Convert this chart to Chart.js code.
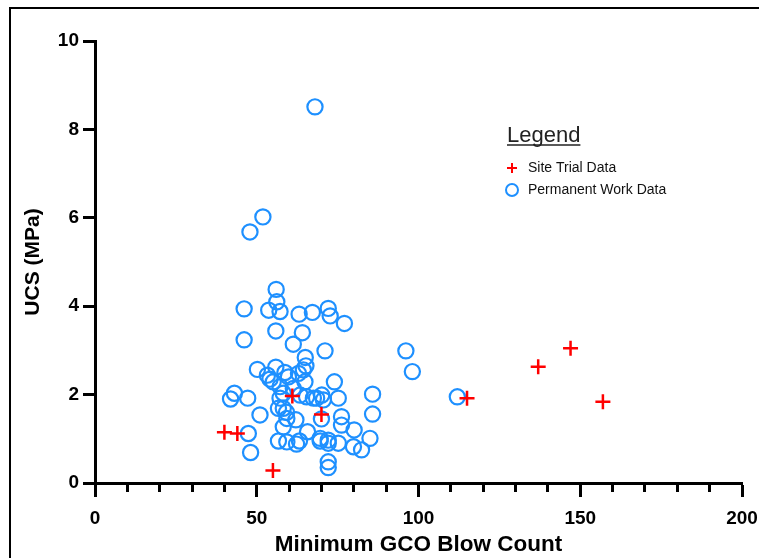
<!DOCTYPE html>
<html>
<head>
<meta charset="utf-8">
<script src="https://cdn.jsdelivr.net/npm/chart.js@4.4.1/dist/chart.umd.min.js"></script>
<style>
  html, body { margin: 0; padding: 0; background: #fff; }
  #wrap { position: relative; width: 759px; height: 558px; overflow: hidden; }
  #frame { position: absolute; left: 9px; top: 7px; right: -10px; bottom: -10px;
           border-left: 2px solid #000; border-top: 2px solid #000; pointer-events: none; }
</style>
</head>
<body>
<div id="wrap"><canvas id="c"></canvas><div id="frame"></div></div>
<script>
// === data ===
const trialX = [40, 44, 55, 61, 70, 115, 137, 147, 157];
const trialY = [1.15, 1.12, 0.28, 1.97, 1.55, 1.92, 2.63, 3.05, 1.84];

const workX = [56, 56.2, 46.1, 53.7, 57.2, 63.1, 67.2, 72.1, 72.7, 77.1,
  55.9, 64.1, 46.1, 61.3, 71.1, 65.0, 65.2, 50.2, 55.9, 53.3,
  54.1, 58.7, 59.8, 62.9, 64.4, 64.9, 74.0, 57.2, 43.1, 41.9,
  47.2, 58.2, 57.2, 65.4, 70.1, 68.5, 75.2, 85.8, 85.8, 51.0,
  58.2, 59.2, 62.1, 70.0, 76.2, 76.2, 80.1, 58.2, 65.7, 47.4,
  56.7, 59.3, 62.3, 63.2, 69.6, 72.1, 75.2, 79.9, 82.4, 85.0,
  48.1, 72.1, 72.1, 96.1, 98.1, 112.0, 68.0, 51.9, 47.9, 55.1,
  61.3, 67.5, 70.6, 69.6, 72.1, 56.7, 59.3, 63.4];
const workY = [4.38, 4.10, 3.94, 3.91, 3.88, 3.82, 3.86, 3.95, 3.78, 3.61,
  3.44, 3.40, 3.24, 3.14, 2.99, 2.84, 2.65, 2.57, 2.62, 2.44,
  2.35, 2.50, 2.40, 2.48, 2.56, 2.29, 2.29, 2.18, 2.03, 1.90,
  1.92, 2.03, 1.92, 1.95, 1.99, 1.92, 1.92, 2.01, 1.56, 1.54,
  1.69, 1.60, 1.43, 1.45, 1.50, 1.31, 1.20, 1.27, 1.16, 1.12,
  0.95, 0.93, 0.88, 0.95, 0.95, 0.90, 0.90, 0.82, 0.75, 1.01,
  0.69, 0.48, 0.35, 2.99, 2.52, 1.95, 8.51, 6.02, 5.68, 2.29,
  2.14, 1.92, 1.88, 1.01, 0.97, 1.69, 1.46, 1.99];

const xRange = [0, 200], xMajor = 50, xMinor = 10;
const yRange = [0, 10], yMajor = 2;

const FONT = "'Liberation Sans', Arial, sans-serif";
const RED = "rgb(255,0,0)", BLUE = "rgb(30,144,255)";

const pts = (xs, ys) => xs.map((x, i) => ({ x, y: ys[i] }));

// === x軸の小目盛り ===
const minorTicks = {
  id: "minorTicks",
  afterDraw(chart) {
    const s = chart.scales.x, ctx = chart.ctx;
    ctx.save();
    ctx.strokeStyle = "#000";
    ctx.lineWidth = 3;
    for (let v = s.min; v <= s.max; v += xMinor) {
      if (v % xMajor === 0) continue;
      const px = Math.round(s.getPixelForValue(v) - 1.5) + 1.5;
      ctx.beginPath();
      ctx.moveTo(px, s.top);
      ctx.lineTo(px, s.top + 9);
      ctx.stroke();
    }
    ctx.restore();
  }
};

// === 凡例（図内） ===
const boxLegend = {
  id: "boxLegend",
  afterDraw(chart) {
    const ctx = chart.ctx;
    const x0 = 507;
    ctx.save();
    ctx.fillStyle = "#222";
    ctx.font = `22px ${FONT}`;
    ctx.textBaseline = "alphabetic";
    ctx.fillText("Legend", x0, 142);
    const w = ctx.measureText("Legend").width;
    ctx.strokeStyle = "#222";
    ctx.lineWidth = 1.5;
    ctx.beginPath(); ctx.moveTo(x0, 145); ctx.lineTo(x0 + w, 145); ctx.stroke();

    ctx.font = `14px ${FONT}`;
    ctx.textBaseline = "middle";
    chart.data.datasets.forEach((ds, i) => {
      const cy = 168 + i * 22, cx = 512;
      ctx.strokeStyle = ds.borderColor;
      ctx.lineWidth = 2;
      ctx.beginPath();
      if (ds.pointStyle === "cross") {
        ctx.moveTo(cx - 5, cy); ctx.lineTo(cx + 5, cy);
        ctx.moveTo(cx, cy - 5); ctx.lineTo(cx, cy + 5);
      } else {
        ctx.arc(cx, cy, 6, 0, Math.PI * 2);
      }
      ctx.stroke();
      ctx.fillStyle = "#111";
      ctx.fillText(ds.label, 528, cy);
    });
    ctx.restore();
  }
};

new Chart(document.getElementById("c"), {
  type: "scatter",
  data: {
    datasets: [
      { label: "Site Trial Data", data: pts(trialX, trialY), pointStyle: "cross",
        pointRadius: 7.5, borderColor: RED, backgroundColor: RED, borderWidth: 2.5 },
      { label: "Permanent Work Data", data: pts(workX, workY), pointStyle: "circle",
        pointRadius: 7.6, borderColor: BLUE, backgroundColor: "rgba(0,0,0,0)", borderWidth: 2.2 }
    ]
  },
  options: {
    responsive: true,
    maintainAspectRatio: false,
    animation: false,
    events: [],
    layout: { padding: { left: 0, top: 41, right: 17, bottom: 0 } },
    plugins: { legend: { display: false }, tooltip: { enabled: false } },
    scales: {
      x: {
        type: "linear", min: xRange[0], max: xRange[1],
        ticks: { stepSize: xMajor, padding: 10, color: "#000",
                 font: { family: FONT, size: 19, weight: "bold" } },
        grid: { drawOnChartArea: false, tickLength: 14, tickWidth: 3, tickColor: "#000" },
        border: { display: true, width: 3, color: "#000" },
        title: { display: true, text: "Minimum GCO Blow Count", color: "#000",
                 font: { family: FONT, size: 22.5, weight: "bold" }, padding: { top: 0, bottom: 0 } },
        afterFit(s) { s.height = 75; s.paddingRight = 0; }
      },
      y: {
        type: "linear", min: yRange[0], max: yRange[1],
        ticks: { stepSize: yMajor, padding: 4, color: "#000",
                 font: { family: FONT, size: 19, weight: "bold" } },
        grid: { drawOnChartArea: false, tickLength: 12, tickWidth: 3, tickColor: "#000" },
        border: { display: true, width: 3, color: "#000" },
        title: { display: true, text: "UCS (MPa)", color: "#000",
                 font: { family: FONT, size: 21, weight: "bold" }, padding: { top: 21, bottom: 0 } },
        afterFit(s) { s.width = 95; }
      }
    }
  },
  plugins: [minorTicks, boxLegend]
});
</script>
</body>
</html>
